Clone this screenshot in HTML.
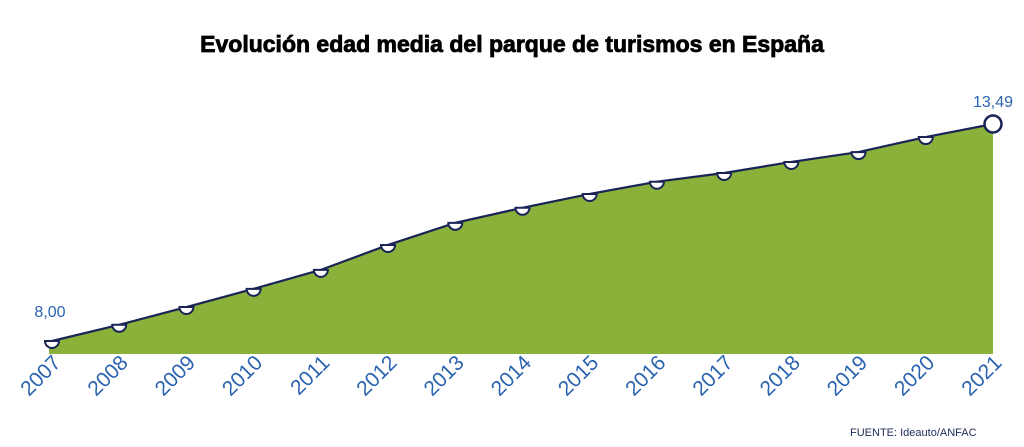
<!DOCTYPE html>
<html><head><meta charset="utf-8"><style>
html,body{margin:0;padding:0;background:#fff;width:1024px;height:447px;overflow:hidden}
svg{display:block}
</style></head><body>
<svg width="1024" height="447" viewBox="0 0 1024 447" xmlns="http://www.w3.org/2000/svg">
<text x="512" y="52" text-anchor="middle" font-family="Liberation Sans, sans-serif" font-weight="bold" font-size="23" fill="#000" stroke="#000" stroke-width="0.8">Evolución edad media del parque de turismos en España</text>
<g id="plot"></g>
<text x="850" y="436" font-family="Liberation Sans, sans-serif" font-size="11" fill="#1f2a5a">FUENTE: Ideauto/ANFAC</text>
</svg>
<script>
const years = ["2007","2008","2009","2010","2011","2012","2013","2014","2015","2016","2017","2018","2019","2020","2021"];
const ages = [8.00,8.41,8.86,9.32,9.80,10.43,10.99,11.37,11.72,12.03,12.25,12.53,12.78,13.16,13.49];
const valueLabels = ["8,00","13,49"];
const NS="http://www.w3.org/2000/svg";
const g=document.getElementById('plot');
const x0=52,x1=993,base=354;
const xs=i=>x0+(x1-x0)*i/(years.length-1);
const ys=v=>341-(v-8)*(217/5.49);
function mk(t,a){const e=document.createElementNS(NS,t);for(const k in a)e.setAttribute(k,a[k]);g.appendChild(e);return e;}
let pts=ages.map((v,i)=>[xs(i),ys(v)]);
let d="M"+(x0-3)+","+base+" L"+(x0-3)+","+pts[0][1]+" "+pts.map(p=>"L"+p[0]+","+p[1]).join(" ")+" L"+x1+","+base+" Z";
const area=mk('path',{d:d,fill:'#8ab13a'});


const line=mk('path',{d:"M"+pts.map(p=>p[0]+","+p[1]).join(" L"),fill:'none',stroke:'#1a2456','stroke-width':2.2});


pts.forEach((p,i)=>{
  let m;
  if(i===pts.length-1){
    m=mk('circle',{cx:p[0],cy:p[1],r:8.5,fill:'#fff',stroke:'#1a2456','stroke-width':2.5});
  } else {
    const r=7;
    m=mk('path',{d:`M${p[0]-r},${p[1]} A${r},${r} 0 0 0 ${p[0]+r},${p[1]} Z`,fill:'#fff',stroke:'#1a2456','stroke-width':2});
  }
  
  
  const t=mk('text',{x:p[0]+10,y:364,'text-anchor':'end','font-family':'Liberation Sans, sans-serif','font-size':21,fill:'#2a63b0',transform:`rotate(-45 ${p[0]+10} 364)`});
  t.textContent=years[i];
  
  
});
const l1=mk('text',{x:50,y:pts[0][1]-24,'text-anchor':'middle','font-family':'Liberation Sans, sans-serif','font-size':16,fill:'#2a63b0'});
l1.textContent=valueLabels[0];


const l2=mk('text',{x:993,y:pts[pts.length-1][1]-17,'text-anchor':'middle','font-family':'Liberation Sans, sans-serif','font-size':16,fill:'#2a63b0'});
l2.textContent=valueLabels[1];


</script>
</body></html>
